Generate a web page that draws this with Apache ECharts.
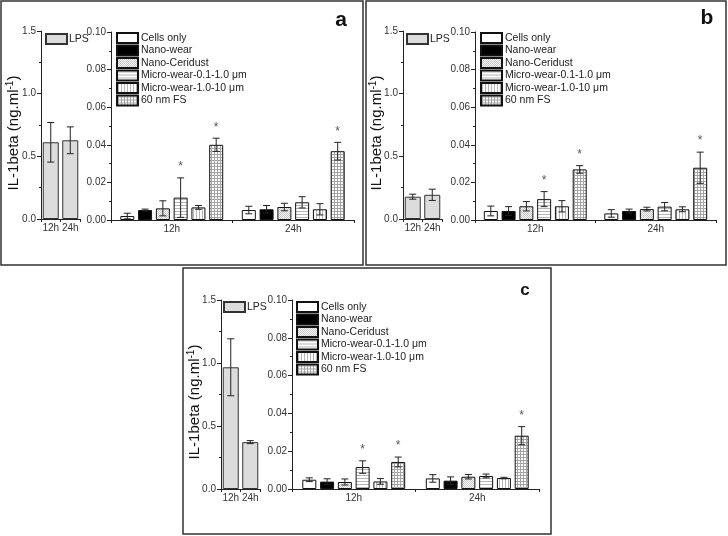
<!DOCTYPE html>
<html><head><meta charset="utf-8">
<script src="https://cdn.jsdelivr.net/npm/echarts@6.0.0/dist/echarts.min.js"></script>
<style>html,body{margin:0;padding:0;background:#fff}#c{width:728px;height:536px}</style>
</head><body><div id="c"></div>
<script>
// ---------------- data ----------------
const treatments = ['Cells only','Nano-wear','Nano-Ceridust','Micro-wear-0.1-1.0 \u03bcm','Micro-wear-1.0-10 \u03bcm','60 nm FS'];
const times = ['12h','24h'];
const lpsName = 'LPS';
const mainTicks = {min:0, max:0.10, interval:0.02};
const lpsTicks = {min:0, max:1.5, interval:0.5};

// panel a
const aLps = [0.612, 0.628];
const aLpsErr = [0.158, 0.107];
const a12 = [0.0021, 0.0053, 0.0062, 0.0119, 0.0067, 0.0400];
const a12Err = [0.0015, 0.0005, 0.0040, 0.0105, 0.0010, 0.0035];
const a24 = [0.0053, 0.0057, 0.0069, 0.0094, 0.0057, 0.0366];
const a24Err = [0.0020, 0.0020, 0.0020, 0.0030, 0.0030, 0.0047];
const aSig12 = [0, 0, 0, 1, 0, 1];
const aSig24 = [0, 0, 0, 0, 0, 1];

// panel b
const bLps = [0.178, 0.193];
const bLpsErr = [0.020, 0.045];
const b12 = [0.0048, 0.0048, 0.0073, 0.0111, 0.0073, 0.0269];
const b12Err = [0.0026, 0.0023, 0.0025, 0.0040, 0.0030, 0.0020];
const b24 = [0.0035, 0.0048, 0.0058, 0.0071, 0.0057, 0.0278];
const b24Err = [0.0020, 0.0010, 0.0010, 0.0022, 0.0013, 0.0083];
const bSig12 = [0, 0, 0, 1, 0, 1];
const bSig24 = [0, 0, 0, 0, 0, 1];

// panel c
const cLps = [0.966, 0.372];
const cLpsErr = [0.226, 0.012];
const c12 = [0.0049, 0.0039, 0.0037, 0.0116, 0.0040, 0.0143];
const c12Err = [0.0010, 0.0015, 0.0016, 0.0033, 0.0015, 0.0026];
const c24 = [0.0056, 0.0044, 0.0065, 0.0069, 0.0058, 0.0282];
const c24Err = [0.0020, 0.0020, 0.0012, 0.0010, 0.0004, 0.0048];
const cSig12 = [0, 0, 0, 1, 0, 1];
const cSig24 = [0, 0, 0, 0, 0, 1];

// ---------------- styles ----------------
const FONT = "'Liberation Sans', Arial, sans-serif";
function pat(w, h, draw) {
  const cv = document.createElement('canvas'); cv.width = w; cv.height = h;
  const g = cv.getContext('2d'); g.fillStyle = '#fff'; g.fillRect(0, 0, w, h);
  draw(g); return {image: cv, repeat: 'repeat'};
}
const fills = [
  '#ffffff',
  '#000000',
  pat(2, 2, g => { g.fillStyle = '#c4c4c4'; g.fillRect(0, 0, 1, 1); g.fillRect(1, 1, 1, 1); }),
  pat(1, 3, g => { g.fillStyle = '#b4b4b4'; g.fillRect(0, 1, 1, 1); }),
  pat(3, 1, g => { g.fillStyle = '#b4b4b4'; g.fillRect(1, 0, 1, 1); }),
  pat(3, 3, g => { g.fillStyle = '#a4a4a4'; g.fillRect(0, 1, 3, 1); g.fillRect(1, 0, 1, 3); })
];
const lpsFill = '#dcdcdc';
const BW = 14, GAP = 0.27, SLOT = BW * (1 + GAP), LBW = 16;

const panels = [
  {lps: aLps, lpsErr: aLpsErr, m12: a12, e12: a12Err, m24: a24, e24: a24Err, s12: aSig12, s24: aSig24,
   lg: {left: 41, top: 31, width: 39, height: 188}, mg: {left: 111, top: 32, width: 243, height: 188},
   lpsLeg: {left: 45, top: 33}, mainLeg: {left: 116, top: 32}, title: {x: 14, y: 133}, tag: {t: 'a', x: 341, y: 20, s: 21},
   frame: {x: 1, y: 1, w: 362, h: 264}},
  {lps: bLps, lpsErr: bLpsErr, m12: b12, e12: b12Err, m24: b24, e24: b24Err, s12: bSig12, s24: bSig24,
   lg: {left: 403, top: 31, width: 39, height: 188}, mg: {left: 475, top: 32, width: 241, height: 188},
   lpsLeg: {left: 406, top: 33}, mainLeg: {left: 480, top: 32}, title: {x: 377, y: 133}, tag: {t: 'b', x: 707, y: 18, s: 21},
   frame: {x: 366, y: 1, w: 360, h: 264}},
  {lps: cLps, lpsErr: cLpsErr, m12: c12, e12: c12Err, m24: c24, e24: c24Err, s12: cSig12, s24: cSig24,
   lg: {left: 221, top: 300, width: 39, height: 189}, mg: {left: 292, top: 300, width: 247, height: 189},
   lpsLeg: {left: 223, top: 301}, mainLeg: {left: 296, top: 301}, title: {x: 195, y: 402}, tag: {t: 'c', x: 525, y: 290, s: 17},
   frame: {x: 183, y: 268, w: 368, h: 266}}
];

function errRender(params, api) {
  const t = api.value(0), m = api.value(1), e = api.value(2), k = api.value(3), sig = api.value(4), slot = api.value(5);
  const c = api.coord([t, m]);
  const top = api.coord([t, m + e]);
  const bot = api.coord([t, m - e]);
  const x = c[0] + (k - 2.5) * slot;
  const ls = {stroke: '#222', lineWidth: 1};
  const ch = [
    {type: 'line', shape: {x1: x, y1: top[1], x2: x, y2: bot[1]}, style: ls},
    {type: 'line', shape: {x1: x - 3.5, y1: top[1], x2: x + 3.5, y2: top[1]}, style: ls},
    {type: 'line', shape: {x1: x - 3.5, y1: bot[1], x2: x + 3.5, y2: bot[1]}, style: ls}
  ];
  if (sig) ch.push({type: 'text', style: {text: '*', x: x, y: top[1] - 11, align: 'center', verticalAlign: 'middle', fontSize: 12, fontFamily: FONT, fill: '#555'}});
  return {type: 'group', children: ch};
}

const grid = [], xAxis = [], yAxis = [], series = [], legend = [], graphic = [];
panels.forEach((p, pi) => {
  const gL = grid.length;
  grid.push(p.lg); grid.push(p.mg);
  const axisLine = {show: true, lineStyle: {color: '#222', width: 1}};
  const lab = {fontSize: 10, color: '#333', fontFamily: FONT};
  [gL, gL + 1].forEach((gi, j) => {
    xAxis.push({type: 'category', gridIndex: gi, data: times, axisLine,
      axisTick: {show: true, length: 3, lineStyle: {color: '#222'}},
      axisLabel: Object.assign({margin: 4, interval: 0, hideOverlap: false}, lab)});
    const tk = j === 0 ? lpsTicks : mainTicks;
    yAxis.push({type: 'value', gridIndex: gi, min: tk.min, max: tk.max, interval: tk.interval, axisLine,
      axisTick: {show: true, length: 4, lineStyle: {color: '#222'}},
      minorTick: {show: true, splitNumber: 2, length: 2, lineStyle: {color: '#222'}},
      splitLine: {show: false},
      axisLabel: Object.assign({margin: 5, formatter: v => v.toFixed(j === 0 ? 1 : 2)}, lab)});
  });
  // LPS bars
  series.push({type: 'bar', name: lpsName, xAxisIndex: gL, yAxisIndex: gL, data: p.lps, barWidth: LBW,
    itemStyle: {color: lpsFill, borderColor: '#333', borderWidth: 1}, silent: true});
  series.push({type: 'custom', xAxisIndex: gL, yAxisIndex: gL, renderItem: errRender, silent: true, z: 5,
    data: p.lps.map((v, t) => [t, v, p.lpsErr[t], 2.5, 0, 0])});
  // main bars
  treatments.forEach((name, k) => {
    series.push({type: 'bar', name, xAxisIndex: gL + 1, yAxisIndex: gL + 1, data: [p.m12[k], p.m24[k]],
      barWidth: BW, barGap: (GAP * 100) + '%', silent: true,
      itemStyle: {color: fills[k], borderColor: '#111', borderWidth: 1}});
  });
  const ed = [];
  [[p.m12, p.e12, p.s12], [p.m24, p.e24, p.s24]].forEach((arr, t) => {
    arr[0].forEach((v, k) => ed.push([t, v, arr[1][k], k, arr[2][k], SLOT]));
  });
  series.push({type: 'custom', xAxisIndex: gL + 1, yAxisIndex: gL + 1, renderItem: errRender, silent: true, z: 5, data: ed});

  legend.push({data: [lpsName], left: p.lpsLeg.left, top: p.lpsLeg.top, icon: 'rect', itemWidth: 21, itemHeight: 10,
    selectedMode: false, padding: 0, textStyle: {fontSize: 10.5, color: '#222', fontFamily: FONT, padding: [0, 0, 0, -3]}});
  legend.push({data: treatments, orient: 'vertical', left: p.mainLeg.left, top: p.mainLeg.top, icon: 'rect',
    itemWidth: 21, itemHeight: 10, itemGap: 0.5, selectedMode: false, padding: 0,
    textStyle: {fontSize: 10.5, color: '#222', fontFamily: FONT, lineHeight: 10, padding: [0, 0, 0, -2]}});

  graphic.push({type: 'rect', shape: {x: p.frame.x, y: p.frame.y, width: p.frame.w, height: p.frame.h},
    style: {fill: 'none', stroke: '#333', lineWidth: 1.5}, silent: true});
  graphic.push({type: 'text', x: p.title.x, y: p.title.y, rotation: Math.PI / 2, silent: true,
    style: {text: '{a|IL-1beta (ng.ml}{s|-1}{a|)}', align: 'center', verticalAlign: 'middle',
      rich: {a: {fontSize: 15, fontFamily: FONT, fill: '#111'}, s: {fontSize: 10, fontFamily: FONT, fill: '#111', padding: [0, 0, 8, 0]}}}});
  graphic.push({type: 'text', x: p.tag.x, y: p.tag.y, silent: true,
    style: {text: p.tag.t, fontSize: p.tag.s, fontWeight: 'bold', fontFamily: FONT, fill: '#111', align: 'center', verticalAlign: 'middle'}});
});

const chart = echarts.init(document.getElementById('c'), null, {renderer: 'canvas'});
chart.setOption({animation: false, backgroundColor: '#fff', grid, xAxis, yAxis, series, legend, graphic});
</script></body></html>
